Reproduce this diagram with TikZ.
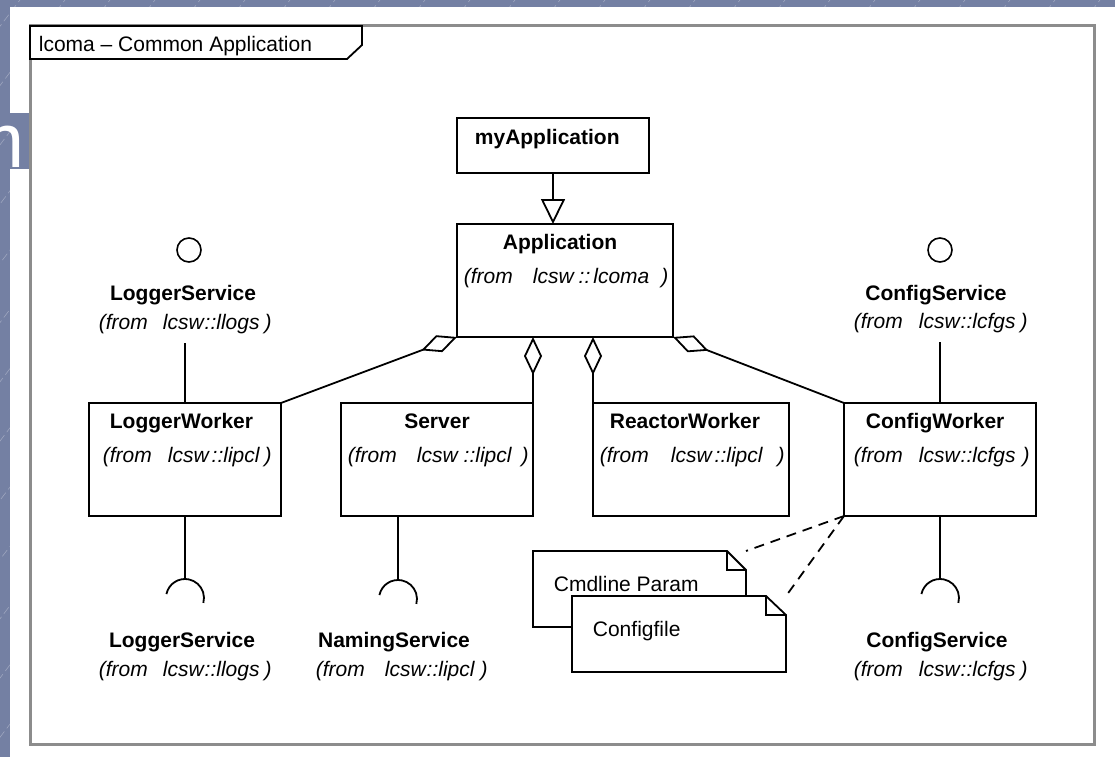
\documentclass[tikz,border=0pt]{standalone}
\usepackage{fontspec}
\setmainfont{Liberation Sans}
\usepackage{tikz}
\usetikzlibrary{arrows.meta,calc}

\definecolor{slideblue}{RGB}{116,128,163}
\definecolor{framegray}{RGB}{140,140,140}
\newcommand{\umlfont}{\fontsize{21}{25}\selectfont}
% (from lcsw::pkg) with the odd gaps of the tool
\newcommand{\frompkg}[4]{(from\hspace{#1pt}lcsw\hspace{#2pt}::#3\hspace{#4pt})}

\begin{document}
\begin{tikzpicture}[x=1pt, y=-1pt, line width=1.8pt, >=stealth]
        \tikzstyle{cls} = [rectangle, draw, fill=white, inner sep=0pt, outer sep=0pt, anchor=north west]
        \tikzstyle{clsname} = [inner sep=0pt, font=\umlfont\bfseries]
        \tikzstyle{pkg} = [inner sep=0pt, font=\umlfont\itshape, anchor=base west]
        \tikzstyle{txt} = [inner sep=0pt, font=\umlfont, anchor=base west]
        \tikzstyle{note} = [rectangle, fill=white, inner sep=0pt, outer sep=0pt, anchor=north west]
        \tikzstyle{iface} = [circle, draw, fill=white, minimum size=24pt, inner sep=0pt, line width=1.6pt]
        \tikzstyle{aggr} = [{Diamond[open,length=38pt,width=18pt]}-]
        \tikzstyle{gen} = [-{Triangle[open,length=25pt,width=24pt]}]
        \tikzstyle{dep} = [dash pattern=on 10pt off 7pt]

        \useasboundingbox (0,0) rectangle (1115,757);
        % slide background
        \fill[slideblue] (0,0) rectangle (1115,757);
        \begin{scope}
            \clip (0,0) rectangle (1115,757);
            \foreach \k in {0,...,40}
                \draw[white, opacity=0.3, line width=0.6pt, dash pattern=on 8pt off 4pt] (\k*45-600,757) -- ++(600,-790);
        \end{scope}
        \fill[white] (10,7) rectangle (1115,757);
        \fill[slideblue] (10,113) rectangle (29,169);
        \begin{scope}
            \clip (0,100) rectangle (29,180);
            \node[inner sep=0pt, anchor=base west, white, font=\fontsize{77}{77}\selectfont] (slidetitle) at (-40,167) {m};
        \end{scope}

        % frame
        \draw[framegray, line width=3pt] (30,26) rectangle (1094,744);
        \draw[fill=white] (30,26) -- (362,26) -- (362,45) -- (347,59) -- (30,59) -- cycle;
        \node[txt] (frametitle) at (38,52) {lcoma -- Common Application};

        % classes
        \node[cls, minimum width=192pt, minimum height=55pt] (myapp) at (457,118) {};
        \node[cls, minimum width=216pt, minimum height=113pt] (app) at (457,224) {};
        \node[cls, minimum width=192pt, minimum height=113pt] (lw) at (89,403) {};
        \node[cls, minimum width=192pt, minimum height=113pt] (srv) at (341,403) {};
        \node[cls, minimum width=196pt, minimum height=113pt] (rw) at (593,403) {};
        \node[cls, minimum width=192pt, minimum height=113pt] (cw) at (844,403) {};

        \node[clsname, anchor=base west] (myappname) at (474,144) {myApplication};
        \node[clsname, anchor=base] (appname) at (560,249) {Application};
        \node[pkg] (apppkg) at (463,283) {\frompkg{20}{5}{\hspace{3pt}lcoma}{12}};
        \node[clsname, anchor=base west] (lwname) at (109,428) {LoggerWorker};
        \node[pkg] (lwpkg) at (102,462) {\frompkg{16}{3}{lipcl}{5}};
        \node[clsname, anchor=base] (srvname) at (437,428) {Server};
        \node[pkg] (srvpkg) at (347,462) {\frompkg{20}{6}{lipcl}{10}};
        \node[clsname, anchor=base west] (rwname) at (609,428) {ReactorWorker};
        \node[pkg] (rwpkg) at (599,462) {\frompkg{22}{3}{lipcl}{15}};
        \node[clsname, anchor=base west] (cwname) at (865,428) {ConfigWorker};
        \node[pkg] (cwpkg) at (853,462) {\frompkg{16}{1}{lcfgs}{7}};

        \draw[gen] (myapp.south) -- (myapp.south |- app.north);
        \draw[aggr] (app.south west) -- (lw.north east);
        \draw[aggr] (srv.north east |- app.south) -- (srv.north east);
        \draw[aggr] (rw.north west |- app.south) -- (rw.north west);
        \draw[aggr] (app.south east) -- (cw.north west);

        % provided interfaces
        \node[iface] (logprov) at (189,250) {};
        \node[clsname, anchor=base] (logprovname) at (183,300) {LoggerService};
        \node[pkg] (logprovpkg) at (98,329) {\frompkg{15}{1}{llogs}{5}};
        \draw (lw.north |- logprovpkg.south) ++(0,9) -- (lw.north);

        \node[iface] (cfgprov) at (940,250) {};
        \node[clsname, anchor=base] (cfgprovname) at (936,300) {ConfigService};
        \node[pkg] (cfgprovpkg) at (853,328) {\frompkg{16}{1}{lcfgs}{5}};
        \draw (cw.north |- cfgprovpkg.south) ++(0,9) -- (cw.north);

        % required interfaces
        \coordinate (logreq) at (185,579);
        \coordinate (nsreq) at (398,580);
        \coordinate (cfgreq) at (940,579);
        \draw (logreq |- lw.south) -- (logreq) ++(0,19) ++(-168:19) arc[start angle=-168, end angle=15, radius=19];
        \draw (nsreq |- srv.south) -- (nsreq) ++(0,19) ++(-168:19) arc[start angle=-168, end angle=15, radius=19];
        \draw (cfgreq |- cw.south) -- (cfgreq) ++(0,19) ++(-168:19) arc[start angle=-168, end angle=15, radius=19];

        \node[clsname, anchor=base] (logreqname) at (182,647) {LoggerService};
        \node[pkg] (logreqpkg) at (98,676) {\frompkg{15}{1}{llogs}{5}};
        \node[clsname, anchor=base] (nsreqname) at (394,647) {NamingService};
        \node[pkg] (nsreqpkg) at (315,676) {\frompkg{20}{1}{lipcl}{6}};
        \node[clsname, anchor=base] (cfgreqname) at (937,647) {ConfigService};
        \node[pkg] (cfgreqpkg) at (853,676) {\frompkg{16}{1}{lcfgs}{5}};

        % notes
        \node[note, minimum width=213pt, minimum height=76pt] (cmd) at (533,551) {};
        \draw (cmd.north west) -- ([xshift=-19pt]cmd.north east) -- ([yshift=-19pt]cmd.north east) -- (cmd.south east) -- (cmd.south west) -- cycle;
        \draw ([xshift=-19pt]cmd.north east) |- ([yshift=-19pt]cmd.north east);
        \node[txt] (cmdtext) at (553,591) {Cmdline Param};

        \node[note, minimum width=214pt, minimum height=76pt] (cfg) at (572,596) {};
        \draw (cfg.north west) -- ([xshift=-20pt]cfg.north east) -- ([yshift=-19pt]cfg.north east) -- (cfg.south east) -- (cfg.south west) -- cycle;
        \draw ([xshift=-20pt]cfg.north east) |- ([yshift=-19pt]cfg.north east);
        \node[txt] (cfgtext) at (592,636) {Configfile};

        \draw[dep] (cw.south west) -- (cmd.north east);
        \draw[dep] (cw.south west) -- (cfg.north east);
    \end{tikzpicture}
\end{document}
